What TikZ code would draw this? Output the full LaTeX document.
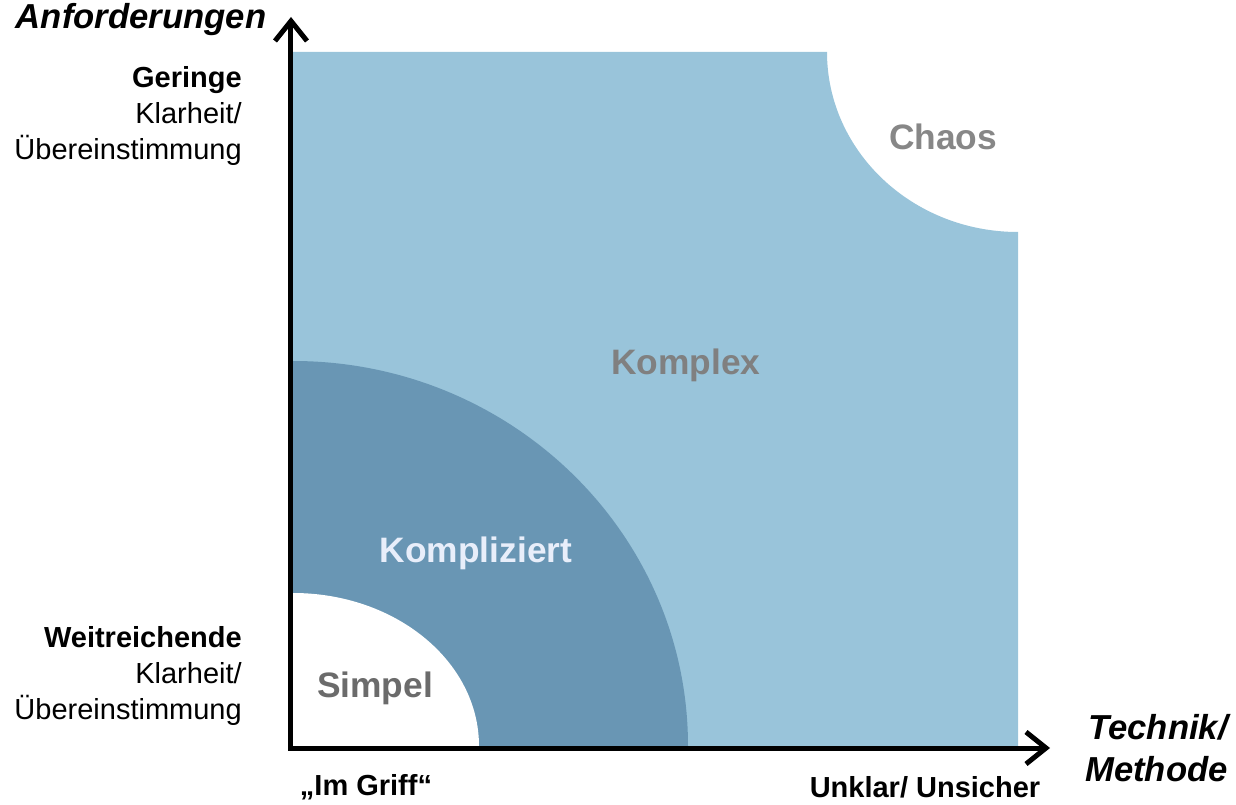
\documentclass[tikz,border=0pt]{standalone}
\usepackage{fontspec}
\setmainfont{Liberation Sans}
\usepackage{xcolor}
\usepackage{tikz}
\usetikzlibrary{arrows.meta, positioning}
\definecolor{komplexblue}{RGB}{153,196,218}
\definecolor{kompliziertblue}{RGB}{105,150,180}
\definecolor{kompliziertText}{RGB}{232,238,250}
\tikzstyle{axis}     = [line width=3.75pt, -{Straight Barb[length=15pt,width=24pt]}]
\tikzstyle{region}   = [font=\fontsize{26.5}{30}\selectfont\bfseries, inner sep=0pt]
\tikzstyle{sidelabel}= [font=\fontsize{21.75}{26.8}\selectfont, align=right, inner sep=0pt]
\tikzstyle{axistitle}= [font=\fontsize{26}{32}\selectfont\bfseries\itshape, align=right, inner sep=0pt]
\tikzset{every node/.style={align=center}}

\begin{document}
\begin{tikzpicture}[x=0.75pt, y=0.75pt]
    \useasboundingbox (-291,-56) rectangle (945,748);
    % areas: Komplex with Chaos cut out, then Kompliziert and Simpel
    \fill[komplexblue] (2,2) -- (2,696) -- (536,696)
        arc[start angle=180, end angle=270, x radius=191, y radius=180]
        -- (727,2) -- cycle;
    \fill[kompliziertblue] (2,2) -- (397,2)
        arc[start angle=0, end angle=90, x radius=395, y radius=385] -- cycle;
    \fill[white] (2,2) -- (188,2)
        arc[start angle=0, end angle=90, x radius=186, y radius=153] -- cycle;
    % axes
    \coordinate (origin) at (0,0);
    \coordinate (ytop)   at (0,731);
    \coordinate (xend)   at (759,0);
    \draw [axis] ([yshift=-1.9pt]origin) -- (ytop);
    \draw [axis] ([xshift=-1.9pt]origin) -- (xend);
    % region names
    \node (komplex)     at (395,383) [region, text=black!50]       {Komplex};
    \node (chaos)       at (652,611) [region, text=black!47]       {Chaos};
    \node (kompliziert) at (185,195) [region, text=kompliziertText] {Kompliziert};
    \node (simpel)      at (84,60)   [region, text=black!58]       {Simpel};
    % axis labels
    \node (anf)     at (-150,728) [axistitle] {Anforderungen};
    \node (technik) at (937,0)    [axistitle, anchor=east] {Technik/\\Methode};
    \node (geringe) at (-49,632)  [sidelabel, anchor=east] {\textbf{Geringe}\\Klarheit/\\Übereinstimmung};
    \node (weit)    at (-49,72)   [sidelabel, anchor=east] {\textbf{Weitreichende}\\Klarheit/\\Übereinstimmung};
    \node (griff)   at (75,-39)   [sidelabel, font=\fontsize{21.75}{26.8}\selectfont\bfseries] {„Im Griff“};
    \node (unklar)  at (634,-39)  [sidelabel, font=\fontsize{21.75}{26.8}\selectfont\bfseries] {Unklar/ Unsicher};
\end{tikzpicture}
\end{document}
